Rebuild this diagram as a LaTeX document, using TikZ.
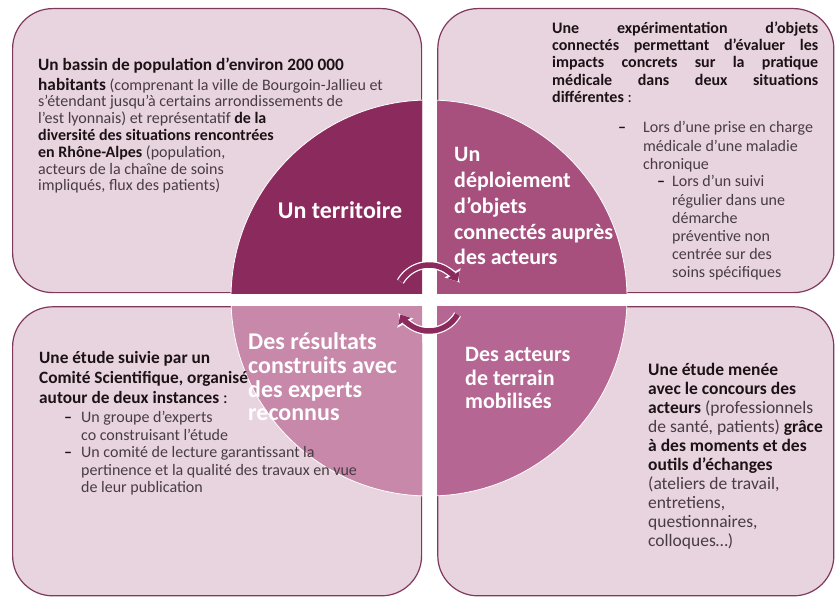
\documentclass[tikz,border=0pt]{standalone}
\usepackage{fontspec}
\setmainfont{Carlito}
\usepackage{tikz}
\usetikzlibrary{arrows.meta, positioning}

\definecolor{fond}{RGB}{232,212,222}
\definecolor{bordure}{RGB}{128,56,92}
\definecolor{prune}{RGB}{139,42,92}
\definecolor{mauve}{RGB}{167,79,125}
\definecolor{rose}{RGB}{199,136,170}
\definecolor{vieuxrose}{RGB}{181,102,146}
\definecolor{encre}{RGB}{28,18,22}
\definecolor{gris}{RGB}{72,60,66}

\newcommand{\gras}[1]{{\bfseries\color{encre}#1}}
\newcommand{\bloc}[1]{\begin{tabular}{@{}l@{}}#1\end{tabular}}
\newcommand{\puces}[2]{\begin{tabular}{@{}l@{\hspace{#1}}l@{}}#2\end{tabular}}
\newcommand{\ligne}[1]{\makebox[266pt][s]{#1}}

\tikzset{
	cadre/.style={
		rectangle,
		rounded corners=40pt,
		draw=bordure,
		line width=1.2pt,
		fill=fond,
		inner sep=0pt
	},
	texte/.style={
		anchor=north west,
		inner sep=0pt,
		text=gris,
		font=\fontsize{16}{16.8}\selectfont
	},
	quart/.style={
		anchor=north west,
		inner sep=0pt,
		text=white,
		font=\bfseries\fontsize{22}{24}\selectfont
	},
	virage/.style={line width=5.5pt, draw=prune, -{Triangle[length=8pt,width=14pt]}},
	contour/.style={line width=8pt, draw=white, -{Triangle[length=10pt,width=18pt]}}
}

\begin{document}
\begin{tikzpicture}[x=1pt, y=-1pt, node distance=15pt]
	\useasboundingbox (0,0) rectangle (835,602);

	\node (territoire) [cadre, minimum width=409pt, minimum height=284pt, anchor=north west] at (12,8) {};
	\node (deploiement) [cadre, minimum width=396pt, minimum height=284pt, right=15pt of territoire] {};
	\node (resultats) [cadre, minimum width=409pt, minimum height=289pt, below=13pt of territoire] {};
	\node (acteurs) [cadre, minimum width=396pt, minimum height=289pt, below=13pt of deploiement] {};
	\coordinate (pivot) at (429,298);

	% Quarts du disque
	\foreach \teinte/\boite in {prune/territoire, mauve/deploiement, rose/resultats, vieuxrose/acteurs} {
		\begin{scope}
			\clip (\boite.north west) rectangle (\boite.south east);
			\fill[\teinte, draw=white, line width=0.8pt] (pivot) circle (198pt);
		\end{scope}
	}

	\node (lblterritoire) [quart, anchor=center, font=\bfseries\fontsize{24}{24}\selectfont] at (340,210) {Un territoire};
	\node (lbldeploiement) [quart, font=\bfseries\fontsize{22}{25.8}\selectfont] at (454,143.5) {\bloc{Un\\ déploiement\\ d’objets\\ connectés auprès\\ des acteurs}};
	\node (lblresultats) [quart, font=\bfseries\fontsize{24}{23}\selectfont] at (248,332.5) {\bloc{Des résultats\\ construits avec\\ des experts\\ reconnus}};
	\node (lblacteurs) [quart, font=\bfseries\fontsize{22}{23.5}\selectfont] at (465,345.2) {\bloc{Des acteurs\\ de terrain\\ mobilisés}};

	% Textes des cadres
	\node (bassin) [texte] at (38,58) {\bloc{%
		\gras{\fontsize{17.3}{16.8}\selectfont Un bassin de population d’environ 200 000}\\[2.2pt]
		\gras{\fontsize{17.3}{16.8}\selectfont habitants} (comprenant la ville de Bourgoin-Jallieu et\\
		s’étendant jusqu’à certains arrondissements de\\
		l’est lyonnais) et représentatif \gras{de la}\\
		\gras{diversité des situations rencontrées}\\
		\gras{en Rhône-Alpes} (population,\\
		acteurs de la chaîne de soins\\
		impliqués, flux des patients)}};

	\node (experimentation) [texte, text=encre, font=\bfseries\fontsize{16}{17.3}\selectfont] at (552,20.8) {\bloc{%
		\ligne{Une expérimentation d’objets}\\
		\ligne{connectés permettant d’évaluer les}\\
		\ligne{impacts concrets sur la pratique}\\
		\ligne{médicale dans deux situations}\\
		différentes \mdseries:}};
	\node (chronique) [texte, font=\fontsize{16}{18.1}\selectfont] at (618,120.1) {\puces{17pt}{%
		\gras{–} & Lors d’une prise en charge\\
		& médicale d’une maladie\\
		& chronique}};
	\node (suivi) [texte, font=\fontsize{16}{18.1}\selectfont] at (657,174.1) {\puces{7pt}{%
		\gras{–} & Lors d’un suivi\\
		& régulier dans une\\
		& démarche\\
		& préventive non\\
		& centrée sur des\\
		& soins spécifiques}};

	\node (comite) [texte, text=encre, font=\bfseries\fontsize{17.3}{20}\selectfont] at (39,349.2) {\bloc{%
		Une étude suivie par un\\
		Comité Scientifique, organisé\\
		autour de deux instances \mdseries:}};
	\node (instances) [texte, font=\fontsize{16}{17.5}\selectfont] at (64,410.5) {\puces{9pt}{%
		\gras{–} & Un groupe d’experts\\
		& co construisant l’étude\\
		\gras{–} & Un comité de lecture garantissant la\\
		& pertinence et la qualité des travaux en vue\\
		& de leur publication}};

	\node (concours) [texte, font=\fontsize{17.5}{19}\selectfont] at (648,362) {\bloc{%
		\gras{Une étude menée}\\
		\gras{avec le concours des}\\
		\gras{acteurs} (professionnels\\
		de santé, patients) \gras{grâce}\\
		\gras{à des moments et des}\\
		\gras{outils d’échanges}\\
		(ateliers de travail,\\
		entretiens,\\
		questionnaires,\\
		colloques…)}};

	% Fleches du centre
	\draw[contour] (pivot) ++(150:33pt) arc[start angle=150, end angle=30, radius=33pt];
	\draw[virage] (pivot) ++(150:33pt) arc[start angle=150, end angle=30, radius=33pt];
	\draw[contour] (pivot) ++(-30:33pt) arc[start angle=-30, end angle=-150, radius=33pt];
	\draw[virage] (pivot) ++(-30:33pt) arc[start angle=-30, end angle=-150, radius=33pt];
\end{tikzpicture}
\end{document}
